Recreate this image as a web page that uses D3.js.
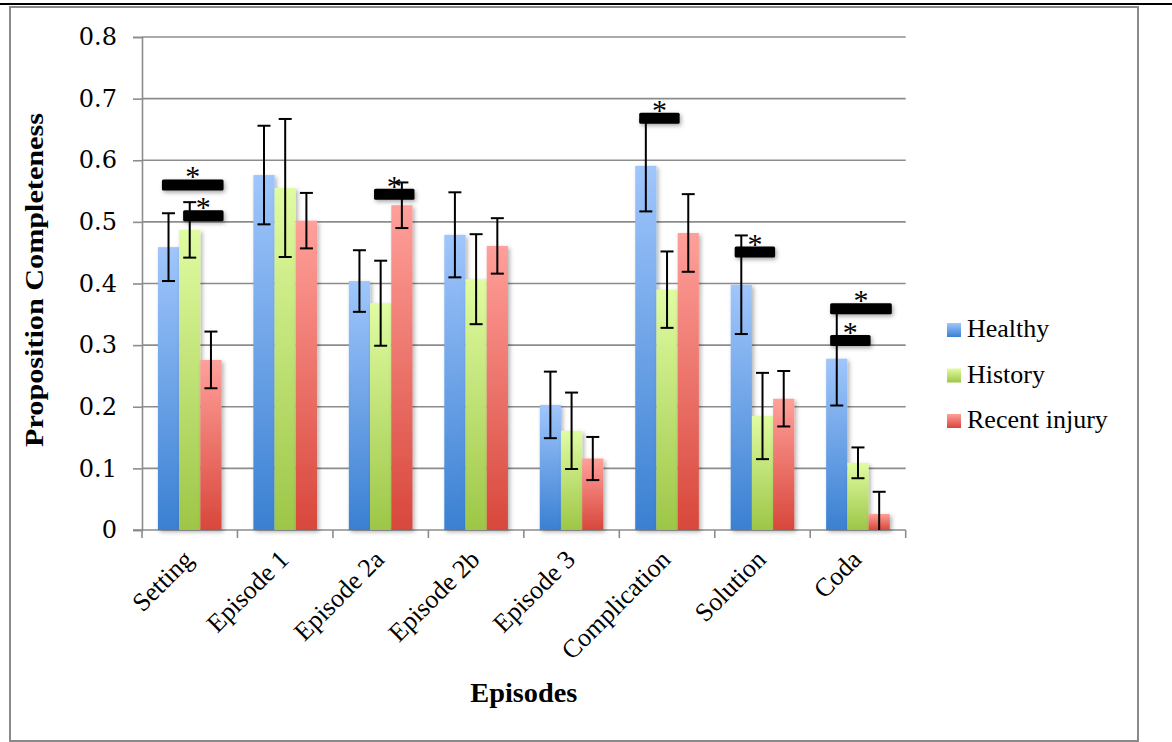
<!DOCTYPE html>
<html>
<head>
<meta charset="utf-8">
<script src="https://cdn.jsdelivr.net/npm/d3@7"></script>
<style>
  html, body { margin: 0; padding: 0; background: #fff; }
  svg { display: block; }
</style>
</head>
<body>
<svg id="chart" width="1172" height="742"></svg>
<script>
// Episode categories and group names
const categories = ["Setting", "Episode 1", "Episode 2a", "Episode 2b", "Episode 3", "Complication", "Solution", "Coda"];
const series = ["Healthy", "History", "Recent injury"];

// Mean proportion completeness per group
const healthy      = [0.459, 0.576, 0.404, 0.479, 0.203, 0.591, 0.398, 0.278];
const history      = [0.487, 0.555, 0.368, 0.407, 0.161, 0.390, 0.185, 0.109];
const recentInjury = [0.276, 0.502, 0.527, 0.461, 0.116, 0.482, 0.213, 0.026];

// Error bar half-widths per group
const healthyErr      = [0.055, 0.080, 0.050, 0.069, 0.054, 0.074, 0.080, 0.076];
const historyErr      = [0.045, 0.112, 0.069, 0.073, 0.062, 0.062, 0.070, 0.025];
const recentInjuryErr = [0.046, 0.045, 0.037, 0.045, 0.035, 0.063, 0.045, 0.036];

// Y axis ticks
const yTicks = [0, 0.1, 0.2, 0.3, 0.4, 0.5, 0.6, 0.7, 0.8];
const yTickLabels = ["0", "0.1", "0.2", "0.3", "0.4", "0.5", "0.6", "0.7", "0.8"];

// Significant group differences: category, spanned groups, height of marker
const sigCategory = ["Setting", "Setting", "Episode 2a", "Complication", "Solution", "Coda", "Coda"];
const sigFrom     = ["Healthy", "History", "History", "Healthy", "Healthy", "Healthy", "Healthy"];
const sigTo       = ["Recent injury", "Recent injury", "Recent injury", "History", "History", "Recent injury", "History"];
const sigLevel    = [0.560, 0.510, 0.545, 0.668, 0.451, 0.359, 0.3075];

const values = [healthy, history, recentInjury];
const errors = [healthyErr, historyErr, recentInjuryErr];
const data = categories.map((c, i) => ({
  category: c,
  groups: series.map((s, j) => ({ series: s, value: values[j][i], err: errors[j][i] }))
}));
const sigMarks = sigCategory.map((c, i) => ({ category: c, from: sigFrom[i], to: sigTo[i], level: sigLevel[i] }));

const colors = {
  "Healthy":       ["#a0c6fc", "#3a80d2"],
  "History":       ["#e0fca2", "#9dc647"],
  "Recent injury": ["#ffa09a", "#d8473b"]
};

const svg = d3.select("#chart");
const serif = "'Liberation Serif', 'Times New Roman', serif";
const tickFont = "'DejaVu Serif', Cambria, serif";

const plot = { left: 142, right: 905.7, top: 37, bottom: 530 };

const y = d3.scaleLinear().domain([0, 0.8]).range([plot.bottom, plot.top]);
const x0 = d3.scaleBand().domain(categories).range([plot.left, plot.right]).paddingInner(0).paddingOuter(0);
const x1 = d3.scaleBand().domain(series).range([0, x0.bandwidth()]).paddingInner(0).paddingOuter(0.75);

// defs: gradients and shadows
const defs = svg.append("defs");
series.forEach((s, i) => {
  const g = defs.append("linearGradient").attr("id", "grad" + i)
    .attr("x1", 0).attr("y1", 0).attr("x2", 0).attr("y2", 1);
  g.append("stop").attr("offset", "0%").attr("stop-color", colors[s][0]);
  g.append("stop").attr("offset", "100%").attr("stop-color", colors[s][1]);
});
const gradOf = s => "url(#grad" + series.indexOf(s) + ")";

const shadow = defs.append("filter").attr("id", "shadow")
  .attr("x", "-30%").attr("y", "-30%").attr("width", "160%").attr("height", "160%");
shadow.append("feDropShadow").attr("dx", 2).attr("dy", 2).attr("stdDeviation", 2)
  .attr("flood-color", "#000").attr("flood-opacity", 0.3);

const sigShadow = defs.append("filter").attr("id", "sigShadow")
  .attr("x", "-30%").attr("y", "-60%").attr("width", "160%").attr("height", "220%");
sigShadow.append("feDropShadow").attr("dx", 1.5).attr("dy", 2).attr("stdDeviation", 2)
  .attr("flood-color", "#000").attr("flood-opacity", 0.35);

// Top rule and outer frame
svg.append("line").attr("x1", 0).attr("x2", 1172).attr("y1", 4).attr("y2", 4)
  .attr("stroke", "#000").attr("stroke-width", 2);
svg.append("rect").attr("x", 10).attr("y", 7).attr("width", 1128).attr("height", 734)
  .attr("fill", "none").attr("stroke", "#8a8a8a").attr("stroke-width", 2);

// Gridlines
svg.append("g").selectAll("line").data(yTicks.filter(d => d > 0)).join("line")
  .attr("x1", plot.left).attr("x2", plot.right)
  .attr("y1", d => y(d)).attr("y2", d => y(d))
  .attr("stroke", "#8c8c8c").attr("stroke-width", 1.6);

// Y axis
const yAxis = svg.append("g").attr("transform", `translate(${plot.left},0)`)
  .call(d3.axisLeft(y).tickValues(yTicks).tickSize(9).tickPadding(16)
    .tickFormat((d, i) => yTickLabels[i]));
yAxis.select(".domain").attr("stroke", "#8c8c8c").attr("stroke-width", 1.6);
yAxis.selectAll(".tick line").attr("stroke", "#8c8c8c").attr("stroke-width", 1.6);
yAxis.selectAll(".tick text").attr("font-family", tickFont).attr("font-size", 24).attr("fill", "#000");

// X axis: baseline, category boundary ticks, rotated labels
const xAxis = svg.append("g");
xAxis.append("line").attr("x1", plot.left - 9).attr("x2", plot.right)
  .attr("y1", plot.bottom).attr("y2", plot.bottom)
  .attr("stroke", "#8c8c8c").attr("stroke-width", 1.6);
const boundaries = categories.map(c => x0(c)).concat([x0(categories[categories.length - 1]) + x0.bandwidth()]);
xAxis.selectAll("line.tick").data(boundaries).join("line").attr("class", "tick")
  .attr("x1", d => d).attr("x2", d => d)
  .attr("y1", plot.bottom).attr("y2", plot.bottom + 8)
  .attr("stroke", "#8c8c8c").attr("stroke-width", 1.6);
xAxis.selectAll("text").data(categories).join("text")
  .attr("transform", d => `translate(${x0(d) + x0.bandwidth() / 2 + 5},${plot.bottom + 31}) rotate(-45)`)
  .attr("text-anchor", "end")
  .attr("font-family", serif).attr("font-size", 26).attr("fill", "#000")
  .text(d => d);

// Bars
const groups = svg.append("g").selectAll("g").data(data).join("g")
  .attr("transform", d => `translate(${x0(d.category)},0)`);
groups.selectAll("rect").data(d => d.groups).join("rect")
  .attr("x", d => x1(d.series))
  .attr("y", d => y(d.value))
  .attr("width", x1.bandwidth())
  .attr("height", d => y(0) - y(d.value))
  .attr("fill", d => gradOf(d.series))
  .attr("filter", "url(#shadow)");

// Error bars
const capW = 13;
const eb = groups.selectAll("g.err").data(d => d.groups).join("g").attr("class", "err")
  .attr("transform", d => `translate(${x1(d.series) + x1.bandwidth() / 2},0)`);
eb.append("line").attr("x1", 0).attr("x2", 0)
  .attr("y1", d => y(d.value + d.err)).attr("y2", d => y(Math.max(0, d.value - d.err)))
  .attr("stroke", "#000").attr("stroke-width", 2);
eb.append("line").attr("x1", -capW / 2).attr("x2", capW / 2)
  .attr("y1", d => y(d.value + d.err)).attr("y2", d => y(d.value + d.err))
  .attr("stroke", "#000").attr("stroke-width", 2);
eb.filter(d => d.value - d.err > 0).append("line").attr("x1", -capW / 2).attr("x2", capW / 2)
  .attr("y1", d => y(d.value - d.err)).attr("y2", d => y(d.value - d.err))
  .attr("stroke", "#000").attr("stroke-width", 2);

// Significance markers
const sigH = 11;
const sig = svg.append("g").selectAll("g").data(sigMarks).join("g");
sig.append("rect")
  .attr("x", d => x0(d.category) + x1(d.from) + 4)
  .attr("width", d => (x1(d.to) + x1.bandwidth() + 2) - (x1(d.from) + 4))
  .attr("y", d => y(d.level) - sigH / 2)
  .attr("height", sigH)
  .attr("rx", 1.5)
  .attr("fill", "#000")
  .attr("filter", "url(#sigShadow)");
sig.append("text")
  .attr("x", d => x0(d.category) + (x1(d.from) + 4 + x1(d.to) + x1.bandwidth() + 2) / 2)
  .attr("y", d => y(d.level) - sigH / 2 + 7)
  .attr("text-anchor", "middle")
  .attr("font-family", serif).attr("font-size", 30).attr("fill", "#000")
  .text("*");

// Axis titles
svg.append("text")
  .attr("transform", `translate(43,280) rotate(-90)`)
  .attr("text-anchor", "middle")
  .attr("font-family", serif).attr("font-weight", "bold").attr("font-size", 26).attr("fill", "#000")
  .attr("textLength", 334).attr("lengthAdjust", "spacingAndGlyphs")
  .text("Proposition Completeness");
svg.append("text")
  .attr("x", (plot.left + plot.right) / 2).attr("y", 702)
  .attr("text-anchor", "middle")
  .attr("font-family", serif).attr("font-weight", "bold").attr("font-size", 27).attr("fill", "#000")
  .attr("textLength", 107).attr("lengthAdjust", "spacingAndGlyphs")
  .text("Episodes");

// Legend
const legend = svg.append("g").selectAll("g").data(series).join("g")
  .attr("transform", (d, i) => `translate(947,${337 + i * 45.5})`);
legend.append("rect").attr("x", 0).attr("y", -14).attr("width", 14).attr("height", 14)
  .attr("fill", d => gradOf(d));
legend.append("text").attr("x", 20).attr("y", 0)
  .attr("font-family", serif).attr("font-size", 26).attr("fill", "#000")
  .text(d => d);
</script>
</body>
</html>
